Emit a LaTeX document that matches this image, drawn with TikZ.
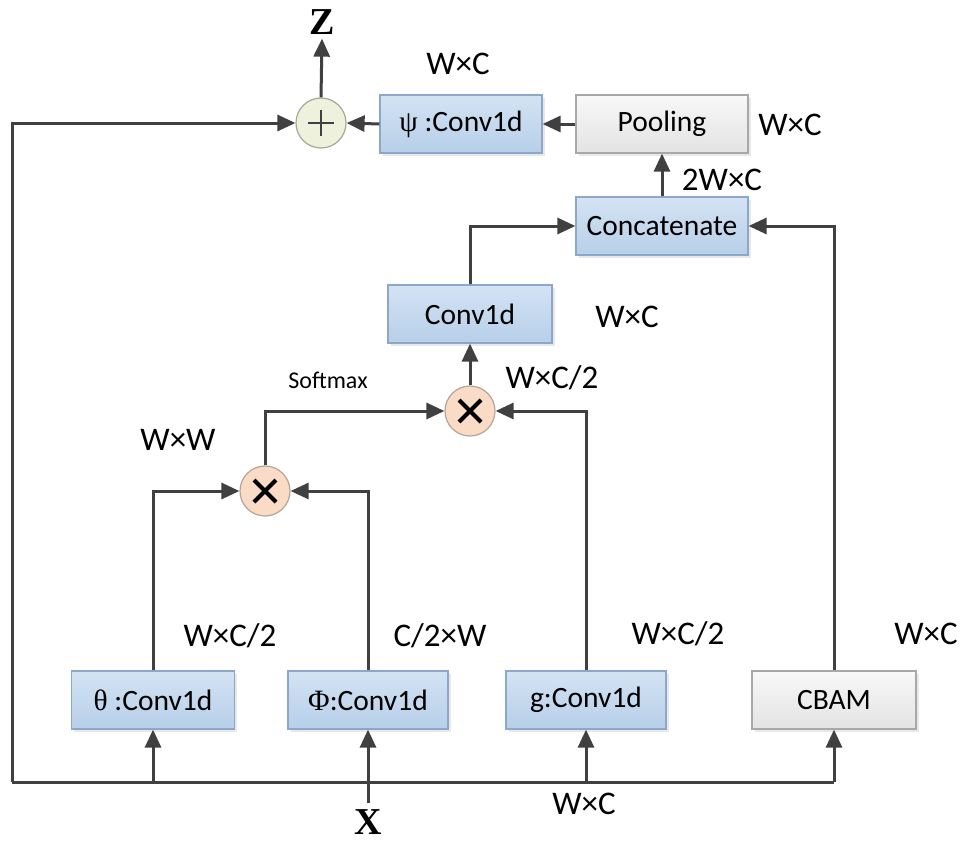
\documentclass[tikz,border=0pt]{standalone}
\usepackage{fontspec}
\setmainfont{Carlito}
\newfontfamily\grk{Liberation Serif}
\usetikzlibrary{arrows.meta,shadows}
\definecolor{ln}{HTML}{404040}
\definecolor{bluetop}{HTML}{D3E3F3}
\definecolor{bluebot}{HTML}{B7CFE9}
\definecolor{blueborder}{HTML}{8CA7C7}
\definecolor{graytop}{HTML}{F8F8F8}
\definecolor{graybot}{HTML}{E3E3E3}
\definecolor{grayborder}{HTML}{A8A8A8}
\definecolor{peach}{HTML}{F9DBC6}
\definecolor{peachborder}{HTML}{B5A598}
\definecolor{pale}{HTML}{EEF1DC}
\definecolor{paleborder}{HTML}{A4A895}
\tikzset{
  arr/.style={draw=ln, line width=3pt, -{Triangle[length=18pt,width=16pt]}},
  plain/.style={draw=ln, line width=3pt},
  bluebox/.style={draw=blueborder, line width=1.2pt, top color=bluetop, bottom color=bluebot,
    minimum height=58pt, inner sep=0pt, font=\fontsize{29.5}{34}\selectfont,
    drop shadow={opacity=0.18, shadow xshift=2.5pt, shadow yshift=-2.5pt}},
  graybox/.style={draw=grayborder, line width=1.2pt, top color=graytop, bottom color=graybot,
    minimum height=58pt, inner sep=0pt, font=\fontsize{29.5}{34}\selectfont,
    drop shadow={opacity=0.18, shadow xshift=2.5pt, shadow yshift=-2.5pt}},
  mulc/.style={circle, draw=peachborder, line width=1.2pt, fill=peach, minimum size=50pt, inner sep=0pt},
  addc/.style={circle, draw=paleborder, line width=1.2pt, fill=pale, minimum size=50pt, inner sep=0pt},
  lab/.style={font=\fontsize{33}{38}\selectfont, inner sep=0pt},
  big/.style={font=\grk\bfseries\fontsize{38}{42}\selectfont, inner sep=0pt}
}
\begin{document}
\begin{tikzpicture}[x=1pt, y=-1pt]
\useasboundingbox (0,0) rectangle (963,843);
% boxes
\node[bluebox, minimum width=162pt] (psi) at (461,124) {{\grk ψ} :Conv1d};
\node[graybox, minimum width=172pt] (pool) at (662,124) {Pooling};
\node[bluebox, minimum width=172pt] (concat) at (662,226) {Concatenate};
\node[bluebox, minimum width=164pt] (conv) at (470,314) {Conv1d};
\node[bluebox, minimum width=163pt] (theta) at (153,700) {{\grk θ} :Conv1d};
\node[bluebox, minimum width=160pt] (phi) at (368,700) {{\grk Φ}:Conv1d};
\node[bluebox, minimum width=160pt] (g) at (586,700) {g:Conv1d};
\node[graybox, minimum width=164pt] (cbam) at (834,700) {CBAM};
% circles
\node[addc] (plus) at (321,123) {};
\draw[ln, line width=2pt] (plus.center) ++(-13,0) -- ++(26,0);
\draw[ln, line width=2pt] (plus.center) ++(0,-13) -- ++(0,26);
\node[mulc] (m2) at (470,411) {};
\node[mulc] (m1) at (265,491) {};
\foreach \c in {m1,m2}{
  \draw[black, line width=4pt] (\c.center) ++(-11,-11) -- ++(22,22);
  \draw[black, line width=4pt] (\c.center) ++(11,-11) -- ++(-22,22);
}
% terminals
\node[big] (Z) at (322,22) {Z};
\node[big] (X) at (368,822) {X};
\coordinate (bl) at (12,782);
% connectors
\draw[arr] (theta.north) |- (m1.west);
\draw[arr] (phi.north) |- (m1.east);
\draw[arr] (m1.north) |- (m2.west);
\draw[arr] (g.north) |- (m2.east);
\draw[arr] (m2.north) -- (conv.south);
\draw[arr] (conv.north) |- (concat.west);
\draw[arr] (cbam.north) |- (concat.east);
\draw[arr] (concat.north) -- (pool.south);
\draw[arr] (pool.west) -- (psi.east);
\draw[arr] (psi.west) -- (plus.east);
\draw[arr] (plus.north) -- ([yshift=-4pt]Z.south);
\draw[arr] (bl) |- (plus.west);
\draw[plain] (bl) -- (bl -| cbam.south);
\draw[arr] (bl -| cbam.south) -- (cbam.south);
\draw[arr] (bl -| theta.south) -- (theta.south);
\draw[arr] (bl -| g.south) -- (g.south);
\draw[arr] ([yshift=6pt]X.north) -- (phi.south);
% labels
\node[lab] (l1) at (458,64) {W×C};
\node[lab] (l2) at (790,125) {W×C};
\node[lab] (l3) at (722,180) {2W×C};
\node[lab] (l4) at (627,317) {W×C};
\node[lab] (l5) at (552,378) {W×C/2};
\node[font=\fontsize{24}{28}\selectfont, inner sep=0pt] (sm) at (328,380) {Softmax};
\node[lab] (l6) at (178,440) {W×W};
\node[lab] (l7) at (230,636) {W×C/2};
\node[lab] (l8) at (440,636) {C/2×W};
\node[lab] (l9) at (678,634) {W×C/2};
\node[lab] (l10) at (926,634) {W×C};
\node[lab] (l11) at (584,804) {W×C};
\end{tikzpicture}
\end{document}
